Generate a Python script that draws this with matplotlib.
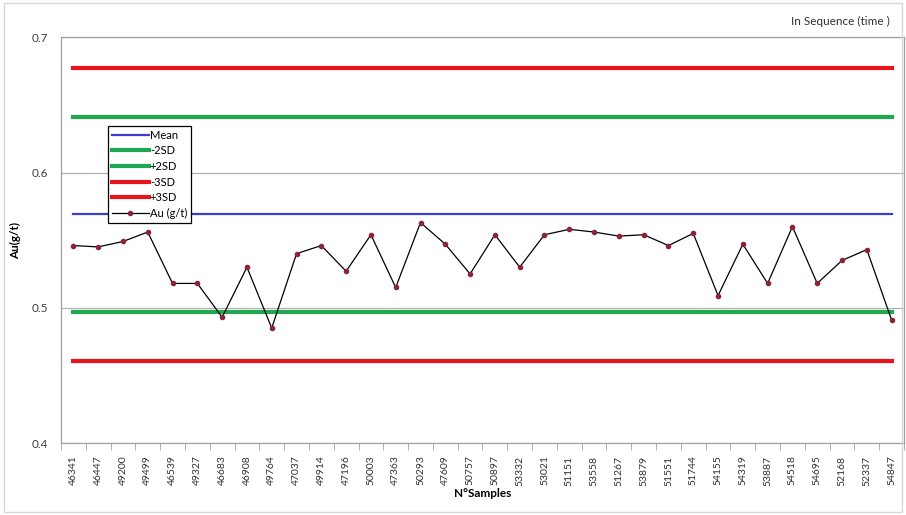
import numpy as np
import matplotlib.pyplot as plt
from matplotlib.patches import Rectangle

plt.rcParams['font.family'] = ['Lato', 'DejaVu Sans']

# sample ids (x categories) and Au grades
samples = ['46341', '46447', '49200', '49499', '46539', '49327', '46683', '46908',
           '49764', '47037', '49914', '47196', '50003', '47363', '50293', '47609',
           '50757', '50897', '53332', '53021', '51151', '53558', '51267', '53879',
           '51551', '51744', '54155', '54319', '53887', '54518', '54695', '52168',
           '52337', '54847']
au = [0.546, 0.545, 0.549, 0.556, 0.518, 0.518, 0.493, 0.530,
      0.485, 0.540, 0.546, 0.527, 0.554, 0.515, 0.563, 0.547,
      0.525, 0.554, 0.530, 0.554, 0.558, 0.556, 0.553, 0.554,
      0.546, 0.555, 0.509, 0.547, 0.518, 0.560, 0.518, 0.535,
      0.543, 0.491]

mean = 0.569
minus2sd = 0.497
plus2sd = 0.641
minus3sd = 0.461
plus3sd = 0.677

fig = plt.figure(figsize=(9.06, 5.15), dpi=100)
fig.patches.append(Rectangle((0.004, 0.006), 0.992, 0.988, transform=fig.transFigure,
                             fill=False, edgecolor='#d9d9d9', linewidth=1))
ax = fig.add_axes([0.0673, 0.1398, 0.9305, 0.7878])

x = np.arange(len(samples))
n = len(samples)
ax.plot(x, [mean] * n, color='#3b3bd0', lw=1.6, label='Mean', zorder=3)
ax.plot(x, [minus2sd] * n, color='#1fa84f', lw=3, label='-2SD', zorder=3)
ax.plot(x, [plus2sd] * n, color='#1fa84f', lw=3, label='+2SD', zorder=3)
ax.plot(x, [minus3sd] * n, color='#e8141c', lw=3, label='-3SD', zorder=3)
ax.plot(x, [plus3sd] * n, color='#e8141c', lw=3, label='+3SD', zorder=3)
ax.plot(x, au, color='black', lw=0.9, marker='o', markersize=3,
        markerfacecolor='#8b2535', markeredgecolor='#8b2535', label='Au (g/t)', zorder=4)

ax.set_xlim(-0.5, n - 0.5)
ax.set_ylim(0.4, 0.7)
ax.set_yticks([0.4, 0.5, 0.6, 0.7])
ax.set_yticklabels(['0.4', '0.5', '0.6', '0.7'], fontsize=8.5, color='#404040')
ax.yaxis.grid(True, color='#b0b0b0', lw=0.9)
ax.set_axisbelow(True)
ax.tick_params(axis='y', length=0, pad=9)

ax.set_xticks(x)
ax.set_xticklabels(samples, rotation=90, fontsize=7.5, color='#303030')
ax.set_xticks(np.arange(-0.5, n, 1), minor=True)
ax.tick_params(axis='x', which='major', length=0, pad=9)
ax.tick_params(axis='x', which='minor', length=5, color='#a0a0a0')

for s in ax.spines.values():
    s.set_color('#a0a0a0')
    s.set_linewidth(0.9)

ax.set_xlabel('N°Samples', fontsize=8.5, fontweight='bold', labelpad=2)
ax.set_ylabel('Au(g/t)', fontsize=8.5, fontweight='bold', labelpad=8)

fig.text(0.982, 0.958, 'In Sequence (time )', ha='right', va='center', fontsize=8.5, color='#303030')

leg = ax.legend(loc='upper left', bbox_to_anchor=(0.056, 0.782), fontsize=8,
                handlelength=3.3, handletextpad=0.1, labelspacing=0.42,
                borderpad=0.35, borderaxespad=0, fancybox=False, framealpha=1,
                edgecolor='black')
leg.get_frame().set_linewidth(0.9)
leg.set_zorder(10)

fig.savefig('out.png', dpi=100)
